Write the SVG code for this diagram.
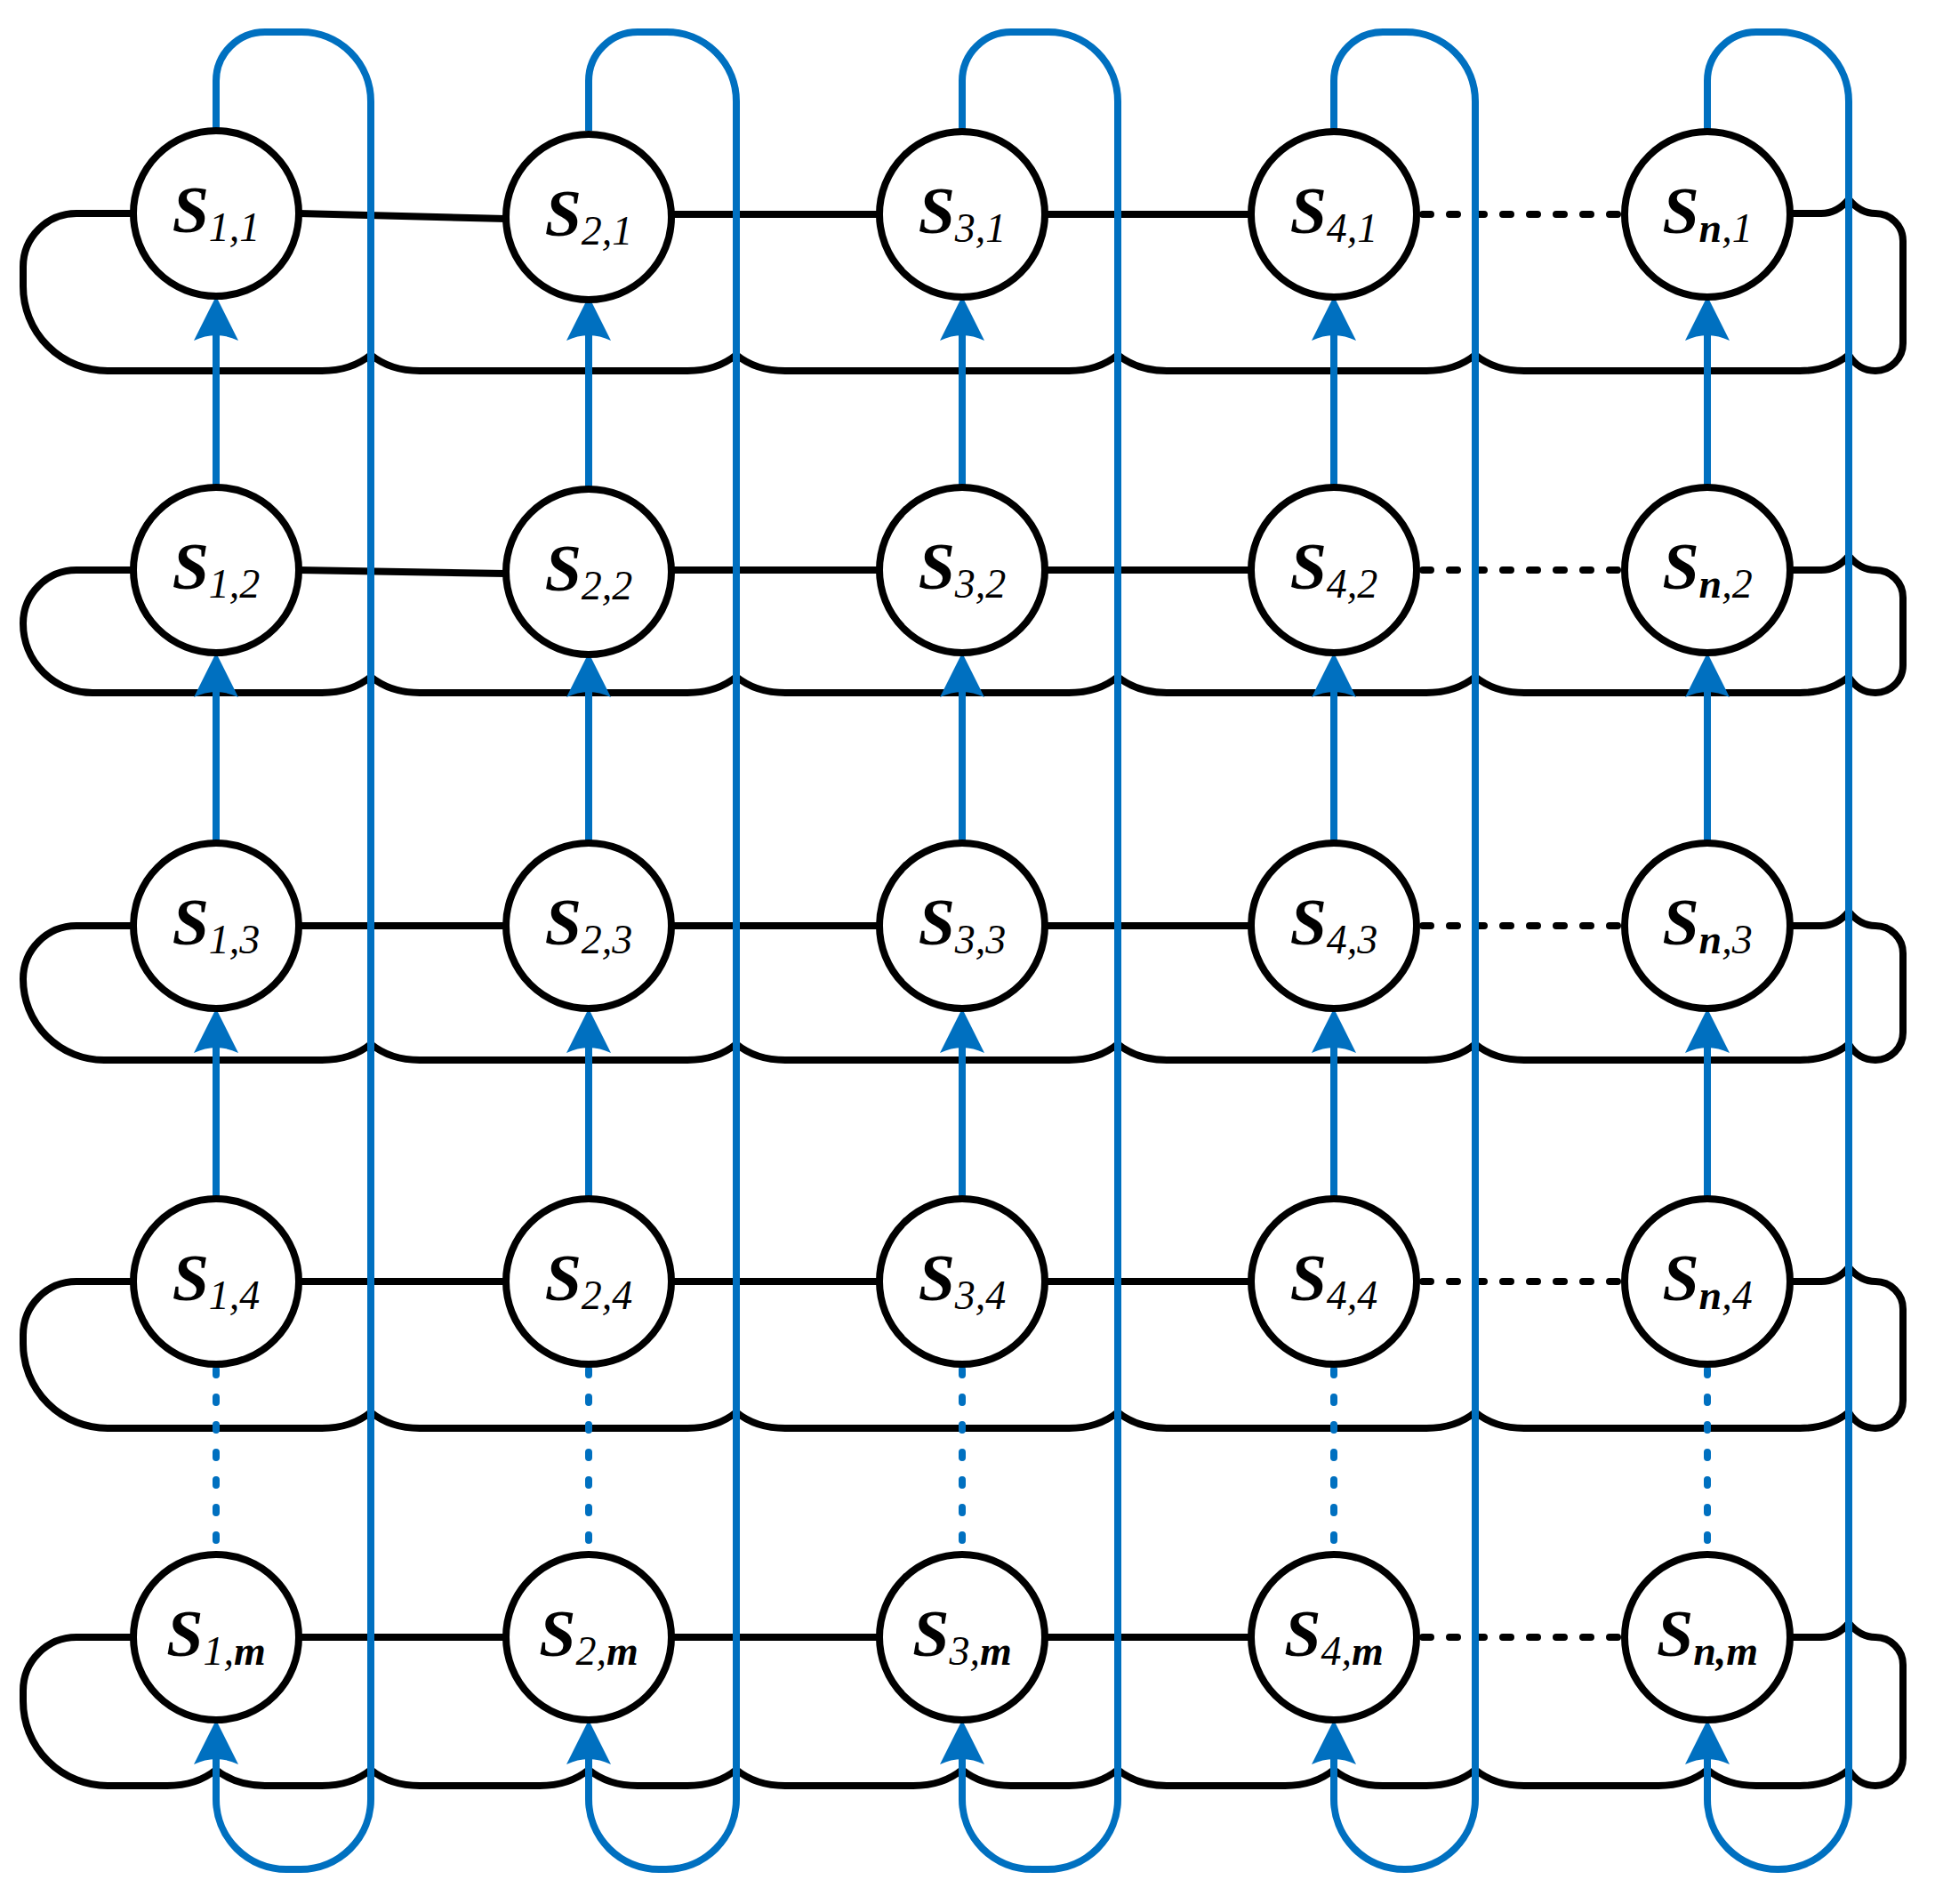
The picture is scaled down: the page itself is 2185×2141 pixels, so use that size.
<svg xmlns="http://www.w3.org/2000/svg" xmlns:xlink="http://www.w3.org/1999/xlink" width="2185" height="2141" viewBox="0 0 2185 2141">
<style>
.bk{fill:none;stroke:#000;stroke-width:8;stroke-linejoin:round}
.bd{fill:none;stroke:#000;stroke-width:8;stroke-dasharray:9 21;stroke-linecap:round}
.bl{fill:none;stroke:#0070C0;stroke-width:8}
.bdot{fill:none;stroke:#0070C0;stroke-width:8;stroke-dasharray:6 25;stroke-linecap:round}
.nd{fill:#fff;stroke:#000;stroke-width:8}
.t{font-family:"Liberation Serif","Times New Roman",serif;font-style:italic;fill:#000}
.S{font-size:74px;font-weight:bold}
.sub{font-size:46px}
.sb{font-size:46px;font-weight:bold}
</style>
<defs>
<path id="ah" d="M0,0 L-25,50 Q0,38 25,50 Z" fill="#0070C0"/>
</defs>
<rect width="2185" height="2141" fill="#fff"/>
<g id="connectors">
<path class="bk" d="M150,240 H86 A60 60 0 0 0 26,300 V322 A95 95 0 0 0 121,417 L362,417 Q395,417 417,399 Q439,417 472,417 L773,417 Q806,417 828,399 Q850,417 883,417 L1202,417 Q1235,417 1257,399 Q1279,417 1312,417 L1604,417 Q1637,417 1659,399 Q1681,417 1714,417 L2024,417 Q2057,417 2079,399 Q2090,417 2109,417 A31 31 0 0 0 2140,386 V271 A31 31 0 0 0 2109,240 Q2092,240 2079,224 Q2066,240 2048,240 H2013"/>
<path class="bk" d="M150,641 H86 A60 60 0 0 0 26,701 A78 78 0 0 0 104,779 L362,779 Q395,779 417,761 Q439,779 472,779 L773,779 Q806,779 828,761 Q850,779 883,779 L1202,779 Q1235,779 1257,761 Q1279,779 1312,779 L1604,779 Q1637,779 1659,761 Q1681,779 1714,779 L2024,779 Q2057,779 2079,761 Q2090,779 2109,779 A31 31 0 0 0 2140,748 V672 A31 31 0 0 0 2109,641 Q2092,641 2079,625 Q2066,641 2048,641 H2013"/>
<path class="bk" d="M150,1041 H86 A60 60 0 0 0 26,1101 A91 91 0 0 0 117,1192 L362,1192 Q395,1192 417,1174 Q439,1192 472,1192 L773,1192 Q806,1192 828,1174 Q850,1192 883,1192 L1202,1192 Q1235,1192 1257,1174 Q1279,1192 1312,1192 L1604,1192 Q1637,1192 1659,1174 Q1681,1192 1714,1192 L2024,1192 Q2057,1192 2079,1174 Q2090,1192 2109,1192 A31 31 0 0 0 2140,1161 V1072 A31 31 0 0 0 2109,1041 Q2092,1041 2079,1025 Q2066,1041 2048,1041 H2013"/>
<path class="bk" d="M150,1441 H86 A60 60 0 0 0 26,1501 V1511 A95 95 0 0 0 121,1606 L362,1606 Q395,1606 417,1588 Q439,1606 472,1606 L773,1606 Q806,1606 828,1588 Q850,1606 883,1606 L1202,1606 Q1235,1606 1257,1588 Q1279,1606 1312,1606 L1604,1606 Q1637,1606 1659,1588 Q1681,1606 1714,1606 L2024,1606 Q2057,1606 2079,1588 Q2090,1606 2109,1606 A31 31 0 0 0 2140,1575 V1472 A31 31 0 0 0 2109,1441 Q2092,1441 2079,1425 Q2066,1441 2048,1441 H2013"/>
<path class="bk" d="M150,1841 H86 A60 60 0 0 0 26,1901 V1913 A95 95 0 0 0 121,2008 L188,2008 Q221,2008 243,1990 Q265,2008 298,2008 L362,2008 Q395,2008 417,1990 Q439,2008 472,2008 L607,2008 Q640,2008 662,1990 Q684,2008 717,2008 L773,2008 Q806,2008 828,1990 Q850,2008 883,2008 L1027,2008 Q1060,2008 1082,1990 Q1104,2008 1137,2008 L1202,2008 Q1235,2008 1257,1990 Q1279,2008 1312,2008 L1445,2008 Q1478,2008 1500,1990 Q1522,2008 1555,2008 L1604,2008 Q1637,2008 1659,1990 Q1681,2008 1714,2008 L1865,2008 Q1898,2008 1920,1990 Q1942,2008 1975,2008 L2024,2008 Q2057,2008 2079,1990 Q2090,2008 2109,2008 A31 31 0 0 0 2140,1977 V1872 A31 31 0 0 0 2109,1841 Q2092,1841 2079,1825 Q2066,1841 2048,1841 H2013"/>
<path class="bk" d="M336,240 L569,246 M755,241 H989 M1175,241 H1407 M336,641 L569,645 M755,641 H989 M1175,641 H1407 M336,1041 H569 M755,1041 H989 M1175,1041 H1407 M336,1441 H569 M755,1441 H989 M1175,1441 H1407 M336,1841 H569 M755,1841 H989 M1175,1841 H1407"/>
<path class="bd" d="M1600,241 H1822 M1600,641 H1822 M1600,1041 H1822 M1600,1441 H1822 M1600,1841 H1822"/>
<path class="bl" d="M243,147 V91 A55 55 0 0 1 298,36 H339 A78 78 0 0 1 417,114 V2023 A79 79 0 0 1 338,2102 H322 A79 79 0 0 1 243,2023 V1975"/>
<path class="bl" d="M662,147 V91 A55 55 0 0 1 717,36 H750 A78 78 0 0 1 828,114 V2023 A79 79 0 0 1 749,2102 H741 A79 79 0 0 1 662,2023 V1975"/>
<path class="bl" d="M1082,147 V91 A55 55 0 0 1 1137,36 H1179 A78 78 0 0 1 1257,114 V2023 A79 79 0 0 1 1178,2102 H1161 A79 79 0 0 1 1082,2023 V1975"/>
<path class="bl" d="M1500,147 V91 A55 55 0 0 1 1555,36 H1581 A78 78 0 0 1 1659,114 V2023 A79 79 0 0 1 1580,2102 H1579 A79 79 0 0 1 1500,2023 V1975"/>
<path class="bl" d="M1920,147 V91 A55 55 0 0 1 1975,36 H2001 A78 78 0 0 1 2079,114 V2023 A79 79 0 0 1 2000,2102 H1999 A79 79 0 0 1 1920,2023 V1975"/>
<path class="bl" d="M243,548 V373 M662,548 V373 M1082,548 V373 M1500,548 V373 M1920,548 V373 M243,948 V774 M662,948 V774 M1082,948 V774 M1500,948 V774 M1920,948 V774 M243,1348 V1174 M662,1348 V1174 M1082,1348 V1174 M1500,1348 V1174 M1920,1348 V1174"/>
<path class="bdot" d="M243,1540 V1745 M662,1540 V1745 M1082,1540 V1745 M1500,1540 V1745 M1920,1540 V1745"/>
<use xlink:href="#ah" x="243" y="333"/><use xlink:href="#ah" x="662" y="333"/><use xlink:href="#ah" x="1082" y="333"/><use xlink:href="#ah" x="1500" y="333"/><use xlink:href="#ah" x="1920" y="333"/>
<use xlink:href="#ah" x="243" y="734"/><use xlink:href="#ah" x="662" y="734"/><use xlink:href="#ah" x="1082" y="734"/><use xlink:href="#ah" x="1500" y="734"/><use xlink:href="#ah" x="1920" y="734"/>
<use xlink:href="#ah" x="243" y="1134"/><use xlink:href="#ah" x="662" y="1134"/><use xlink:href="#ah" x="1082" y="1134"/><use xlink:href="#ah" x="1500" y="1134"/><use xlink:href="#ah" x="1920" y="1134"/>
<use xlink:href="#ah" x="243" y="1934"/><use xlink:href="#ah" x="662" y="1934"/><use xlink:href="#ah" x="1082" y="1934"/><use xlink:href="#ah" x="1500" y="1934"/><use xlink:href="#ah" x="1920" y="1934"/>
</g>
<g id="n11"><circle class="nd" cx="243" cy="240" r="93"/><text class="t" x="243" y="261" text-anchor="middle"><tspan class="S">S</tspan><tspan class="sub" dy="10">1,1</tspan></text></g>
<g id="n21"><circle class="nd" cx="662" cy="244" r="93"/><text class="t" x="662" y="265" text-anchor="middle"><tspan class="S">S</tspan><tspan class="sub" dy="10">2,1</tspan></text></g>
<g id="n31"><circle class="nd" cx="1082" cy="241" r="93"/><text class="t" x="1082" y="262" text-anchor="middle"><tspan class="S">S</tspan><tspan class="sub" dy="10">3,1</tspan></text></g>
<g id="n41"><circle class="nd" cx="1500" cy="241" r="93"/><text class="t" x="1500" y="262" text-anchor="middle"><tspan class="S">S</tspan><tspan class="sub" dy="10">4,1</tspan></text></g>
<g id="nn1"><circle class="nd" cx="1920" cy="241" r="93"/><text class="t" x="1920" y="262" text-anchor="middle"><tspan class="S">S</tspan><tspan class="sb" dy="10">n</tspan><tspan class="sub">,1</tspan></text></g>
<g id="n12"><circle class="nd" cx="243" cy="641" r="93"/><text class="t" x="243" y="662" text-anchor="middle"><tspan class="S">S</tspan><tspan class="sub" dy="10">1,2</tspan></text></g>
<g id="n22"><circle class="nd" cx="662" cy="643" r="93"/><text class="t" x="662" y="664" text-anchor="middle"><tspan class="S">S</tspan><tspan class="sub" dy="10">2,2</tspan></text></g>
<g id="n32"><circle class="nd" cx="1082" cy="641" r="93"/><text class="t" x="1082" y="662" text-anchor="middle"><tspan class="S">S</tspan><tspan class="sub" dy="10">3,2</tspan></text></g>
<g id="n42"><circle class="nd" cx="1500" cy="641" r="93"/><text class="t" x="1500" y="662" text-anchor="middle"><tspan class="S">S</tspan><tspan class="sub" dy="10">4,2</tspan></text></g>
<g id="nn2"><circle class="nd" cx="1920" cy="641" r="93"/><text class="t" x="1920" y="662" text-anchor="middle"><tspan class="S">S</tspan><tspan class="sb" dy="10">n</tspan><tspan class="sub">,2</tspan></text></g>
<g id="n13"><circle class="nd" cx="243" cy="1041" r="93"/><text class="t" x="243" y="1062" text-anchor="middle"><tspan class="S">S</tspan><tspan class="sub" dy="10">1,3</tspan></text></g>
<g id="n23"><circle class="nd" cx="662" cy="1041" r="93"/><text class="t" x="662" y="1062" text-anchor="middle"><tspan class="S">S</tspan><tspan class="sub" dy="10">2,3</tspan></text></g>
<g id="n33"><circle class="nd" cx="1082" cy="1041" r="93"/><text class="t" x="1082" y="1062" text-anchor="middle"><tspan class="S">S</tspan><tspan class="sub" dy="10">3,3</tspan></text></g>
<g id="n43"><circle class="nd" cx="1500" cy="1041" r="93"/><text class="t" x="1500" y="1062" text-anchor="middle"><tspan class="S">S</tspan><tspan class="sub" dy="10">4,3</tspan></text></g>
<g id="nn3"><circle class="nd" cx="1920" cy="1041" r="93"/><text class="t" x="1920" y="1062" text-anchor="middle"><tspan class="S">S</tspan><tspan class="sb" dy="10">n</tspan><tspan class="sub">,3</tspan></text></g>
<g id="n14"><circle class="nd" cx="243" cy="1441" r="93"/><text class="t" x="243" y="1462" text-anchor="middle"><tspan class="S">S</tspan><tspan class="sub" dy="10">1,4</tspan></text></g>
<g id="n24"><circle class="nd" cx="662" cy="1441" r="93"/><text class="t" x="662" y="1462" text-anchor="middle"><tspan class="S">S</tspan><tspan class="sub" dy="10">2,4</tspan></text></g>
<g id="n34"><circle class="nd" cx="1082" cy="1441" r="93"/><text class="t" x="1082" y="1462" text-anchor="middle"><tspan class="S">S</tspan><tspan class="sub" dy="10">3,4</tspan></text></g>
<g id="n44"><circle class="nd" cx="1500" cy="1441" r="93"/><text class="t" x="1500" y="1462" text-anchor="middle"><tspan class="S">S</tspan><tspan class="sub" dy="10">4,4</tspan></text></g>
<g id="nn4"><circle class="nd" cx="1920" cy="1441" r="93"/><text class="t" x="1920" y="1462" text-anchor="middle"><tspan class="S">S</tspan><tspan class="sb" dy="10">n</tspan><tspan class="sub">,4</tspan></text></g>
<g id="n1m"><circle class="nd" cx="243" cy="1841" r="93"/><text class="t" x="243" y="1862" text-anchor="middle"><tspan class="S">S</tspan><tspan class="sub" dy="10">1,</tspan><tspan class="sb">m</tspan></text></g>
<g id="n2m"><circle class="nd" cx="662" cy="1841" r="93"/><text class="t" x="662" y="1862" text-anchor="middle"><tspan class="S">S</tspan><tspan class="sub" dy="10">2,</tspan><tspan class="sb">m</tspan></text></g>
<g id="n3m"><circle class="nd" cx="1082" cy="1841" r="93"/><text class="t" x="1082" y="1862" text-anchor="middle"><tspan class="S">S</tspan><tspan class="sub" dy="10">3,</tspan><tspan class="sb">m</tspan></text></g>
<g id="n4m"><circle class="nd" cx="1500" cy="1841" r="93"/><text class="t" x="1500" y="1862" text-anchor="middle"><tspan class="S">S</tspan><tspan class="sub" dy="10">4,</tspan><tspan class="sb">m</tspan></text></g>
<g id="nnm"><circle class="nd" cx="1920" cy="1841" r="93"/><text class="t" x="1920" y="1862" text-anchor="middle"><tspan class="S">S</tspan><tspan class="sb" dy="10">n,m</tspan></text></g>
</svg>
